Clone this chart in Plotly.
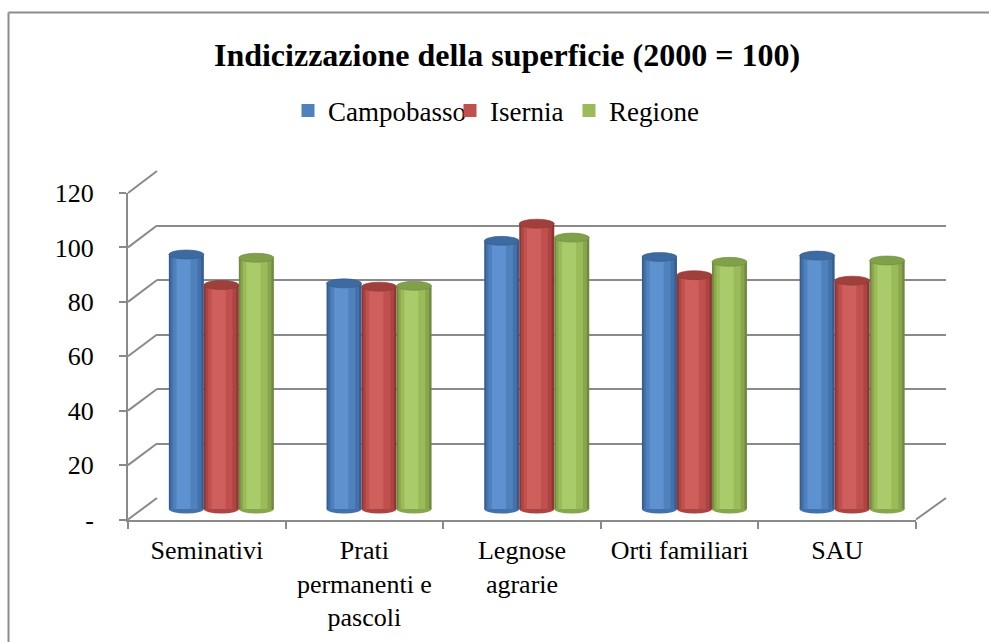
import plotly.graph_objects as go

# ---------------- data ----------------
categories = ["Seminativi", "Prati permanenti e pascoli", "Legnose agrarie",
              "Orti familiari", "SAU"]
category_labels = ["Seminativi", "Prati<br>permanenti e<br>pascoli", "Legnose<br>agrarie",
                   "Orti familiari", "SAU"]
series_names = ["Campobasso", "Isernia", "Regione"]
campobasso = [93.4, 82.8, 98.4, 92.5, 93.0]
isernia = [82.2, 81.6, 104.7, 85.8, 83.8]
regione = [92.2, 81.9, 99.6, 90.7, 91.2]
y_tick_values = [0, 20, 40, 60, 80, 100, 120]
y_tick_labels = ["-", "20", "40", "60", "80", "100", "120"]
title_text = "Indicizzazione della superficie (2000 = 100)"

series_values = [campobasso, isernia, regione]

# ---------------- styling ----------------
W, H = 989, 642
FONT = "Liberation Serif"
GRID = "#8a8a8a"


def fx(p):
    return p / W


def fy(p):
    return 1 - p / H


palettes = [
    # dark edge, mid-dark, base, light, top
    ["#355d8f", "#4271ab", "#4f81bd", "#5d91cf", "#3d6aa0"],
    ["#8f3533", "#ac4442", "#c0504d", "#cf5f5c", "#a0403d"],
    ["#71893f", "#88a64d", "#9bbb59", "#aacb69", "#80a04a"],
]
strips = [(0.0, 1.0), (0.05, 0.93), (0.12, 0.82), (0.22, 0.62)]

bar_w = 0.222
ellipse_r = 1.65  # half-height of cylinder caps (axis units)

# geometry of the pseudo-3D frame (pixels)
front_left, front_right = 128, 916
front_bottom, front_top = 519.5, 193
back_left, back_right = 157, 946
back_bottom, back_top = 498, 171
mid_left, mid_right = 142.5, 931
mid_zero, mid_top = 509, 182
y_min_bars = -5
px_per_unit = (mid_zero - mid_top) / 120.0

fig = go.Figure()

# back wall subplot (xy) - only for gridlines
fig.add_trace(go.Scatter(x=[0], y=[0], mode="markers", marker=dict(opacity=0),
                         showlegend=False, hoverinfo="skip", xaxis="x", yaxis="y"))
# front axes subplot (x3y3)
fig.add_trace(go.Scatter(x=categories, y=[0] * len(categories), mode="markers",
                         marker=dict(opacity=0), showlegend=False, hoverinfo="skip",
                         xaxis="x3", yaxis="y3"))

shapes = []
legend_ids = ["legend", "legend2", "legend3"]
for i, (name, vals) in enumerate(zip(series_names, series_values)):
    pal = palettes[i]
    base_off = -1.5 * bar_w + i * bar_w
    for k, (f0, f1) in enumerate(strips):
        fig.add_trace(go.Bar(
            x=categories, y=vals, name=name, legendgroup=name,
            offset=base_off + f0 * bar_w, width=(f1 - f0) * bar_w,
            marker=dict(color=pal[k], line=dict(width=0)),
            showlegend=False,
            hoverinfo="skip" if k != 2 else "x+y+name",
            xaxis="x2", yaxis="y2",
        ))
    # legend entry (square swatch)
    fig.add_trace(go.Scatter(
        x=[categories[0]], y=[None], name=name, legendgroup=name,
        mode="markers", marker=dict(symbol="square", size=13, color=pal[2]),
        showlegend=True, legend=legend_ids[i], hoverinfo="skip",
        xaxis="x2", yaxis="y2",
    ))
    for j, v in enumerate(vals):
        x0 = j + base_off
        x1 = x0 + bar_w
        # rounded bottom
        shapes.append(dict(type="circle", xref="x2", yref="y2", x0=x0, x1=x1,
                           y0=-ellipse_r, y1=ellipse_r, fillcolor=pal[1],
                           line=dict(width=0), layer="below"))
        # top cap
        shapes.append(dict(type="circle", xref="x2", yref="y2", x0=x0, x1=x1,
                           y0=v - ellipse_r, y1=v + ellipse_r, fillcolor=pal[4],
                           line=dict(width=0.6, color=pal[0]), layer="above"))

# diagonal connectors between front axis and back wall
for v in y_tick_values:
    yf = front_bottom - v * (front_bottom - front_top) / 120.0
    yb = back_bottom - v * (back_bottom - back_top) / 120.0
    shapes.append(dict(type="line", xref="paper", yref="paper",
                       x0=fx(front_left), y0=fy(yf), x1=fx(back_left), y1=fy(yb),
                       line=dict(color=GRID, width=2), layer="below"))
# right floor edge
shapes.append(dict(type="line", xref="paper", yref="paper",
                   x0=fx(front_right), y0=fy(front_bottom), x1=fx(back_right), y1=fy(back_bottom),
                   line=dict(color=GRID, width=2), layer="below"))
# outer chart border (left and top edges visible)
shapes.append(dict(type="line", xref="paper", yref="paper",
                   x0=fx(8.5), y0=fy(12.5), x1=1.0, y1=fy(12.5),
                   line=dict(color="#8c8c8c", width=2), layer="below"))
shapes.append(dict(type="line", xref="paper", yref="paper",
                   x0=fx(8.5), y0=fy(12.5), x1=fx(8.5), y1=0.0,
                   line=dict(color="#8c8c8c", width=2), layer="below"))

legend_common = dict(orientation="h", yanchor="middle", xanchor="left",
                     y=fy(111), font=dict(family=FONT, size=27, color="black"),
                     bgcolor="rgba(0,0,0,0)", itemclick=False, itemdoubleclick=False,
                     itemsizing="trace")

fig.update_layout(
    width=W, height=H, autosize=False,
    margin=dict(l=0, r=0, t=0, b=0, pad=0, autoexpand=False),
    paper_bgcolor="white", plot_bgcolor="rgba(0,0,0,0)",
    barmode="overlay",
    font=dict(family=FONT, color="black"),
    title=dict(text="<b>" + title_text + "</b>", x=fx(507), y=fy(55),
               xref="paper", yref="paper", xanchor="center", yanchor="middle",
               font=dict(family=FONT, size=32, color="black")),
    # back wall
    xaxis=dict(domain=[fx(back_left), fx(back_right)], range=[0, 1], visible=False,
               anchor="y", fixedrange=True),
    yaxis=dict(domain=[fy(back_bottom), fy(back_top)], range=[0, 120], dtick=20,
               tick0=0, showgrid=True, gridcolor=GRID, gridwidth=2,
               zeroline=False, showline=False, showticklabels=False, ticks="",
               anchor="x", fixedrange=True),
    # bars (mid-depth plane)
    xaxis2=dict(domain=[fx(mid_left), fx(mid_right)], range=[-0.5, 4.5],
                type="category", categoryarray=categories, categoryorder="array",
                visible=False, anchor="y2", fixedrange=True),
    yaxis2=dict(domain=[fy(mid_zero - y_min_bars * px_per_unit), fy(mid_top)],
                range=[y_min_bars, 120], visible=False, showgrid=False,
                zeroline=False, anchor="x2", fixedrange=True),
    # front plane axes
    xaxis3=dict(domain=[fx(front_left), fx(front_right)], range=[-0.5, 4.5],
                type="category", categoryarray=categories, categoryorder="array",
                tickvals=categories, ticktext=category_labels,
                tickson="boundaries", ticks="outside", ticklen=7, tickwidth=2,
                tickcolor=GRID, showline=True, linecolor=GRID, linewidth=2,
                showgrid=False, zeroline=False, tickangle=0, ticklabelstandoff=6,
                tickfont=dict(family=FONT, size=26, color="black"),
                anchor="y3", fixedrange=True),
    yaxis3=dict(domain=[fy(front_bottom), fy(front_top)], range=[0, 120],
                tickvals=y_tick_values, ticktext=y_tick_labels,
                ticks="outside", ticklen=7, tickwidth=2, tickcolor=GRID,
                showline=True, linecolor=GRID, linewidth=2, showgrid=False,
                zeroline=False, ticklabelstandoff=20,
                tickfont=dict(family=FONT, size=26, color="black"),
                anchor="x3", fixedrange=True),
    legend=dict(x=fx(288), **legend_common),
    legend2=dict(x=fx(450), **legend_common),
    legend3=dict(x=fx(569), **legend_common),
    shapes=shapes,
)

fig.write_html("out.html", config={"displayModeBar": False},
               post_script="document.body.style.margin='0';document.body.style.overflow='hidden';")
